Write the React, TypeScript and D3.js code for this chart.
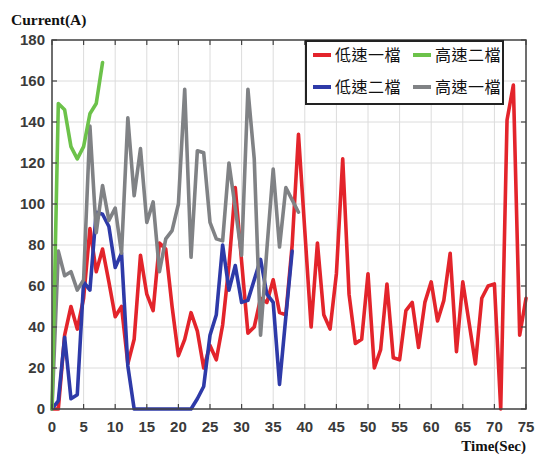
import React from "react";
import * as d3 from "d3";

const xTicks = [0, 5, 10, 15, 20, 25, 30, 35, 40, 45, 50, 55, 60, 65, 70, 75];
const yTicks = [0, 20, 40, 60, 80, 100, 120, 140, 160, 180];

const lowFirst = [
  0, 0, 36, 50, 39, 54, 88, 67, 78, 62, 45, 50, 22, 34, 75, 56, 48, 81, 78, 50,
  26, 34, 47, 38, 20, 31, 24, 41, 70, 108, 72, 37, 40, 54, 52, 63, 47, 46, 80, 134,
  87, 40, 81, 46, 39, 66, 122, 56, 32, 34, 66, 20, 29, 61, 25, 24, 48, 52, 30, 52,
  62, 43, 53, 76, 28, 62, 42, 22, 54, 60, 61, 0, 141, 158, 36, 54,
];
const lowSecond = [
  0, 4, 35, 5, 7, 62, 58, 96, 95, 89, 69, 76, 21, 0, 0, 0, 0, 0, 0, 0,
  0, 0, 0, 5, 11, 36, 46, 80, 58, 70, 52, 53, 63, 73, 56, 52, 12, 45, 77,
];
const highSecond = [0, 149, 146, 128, 122, 128, 144, 149, 169];
const highFirst = [
  0, 77, 65, 67, 58, 63, 138, 86, 109, 92, 98, 76, 142, 104, 127, 91, 101, 67, 83, 87,
  100, 156, 74, 126, 125, 91, 83, 82, 120, 98, 75, 156, 122, 36, 78, 117, 79, 108, 102, 96,
];

const seriesNames = ["低速一檔", "高速二檔", "低速二檔", "高速一檔"];
const seriesColors = ["#e3242b", "#6cc24a", "#2e3aa8", "#808285"];

export default function App() {
  const W = 537, H = 456;
  const L = 52, R = 526, T = 40, B = 409;
  const x = d3.scaleLinear().domain([0, 75]).range([L, R]);
  const y = d3.scaleLinear().domain([0, 180]).range([B, T]);
  const line = d3
    .line<number>()
    .x((_, i) => x(i))
    .y((d) => y(d));

  const draw = [
    { data: lowFirst, color: seriesColors[0] },
    { data: lowSecond, color: seriesColors[2] },
    { data: highFirst, color: seriesColors[3] },
    { data: highSecond, color: seriesColors[1] },
  ];

  const legendItems = [
    { name: seriesNames[0], color: seriesColors[0], lx: 313, ly: 55 },
    { name: seriesNames[1], color: seriesColors[1], lx: 413, ly: 55 },
    { name: seriesNames[2], color: seriesColors[2], lx: 313, ly: 87 },
    { name: seriesNames[3], color: seriesColors[3], lx: 413, ly: 87 },
  ];

  const tickFont = "'Liberation Sans', Arial, sans-serif";
  const serif = "'Liberation Serif', 'Times New Roman', serif";

  return (
    <svg
      width={W}
      height={H}
      style={{ position: "fixed", left: 0, top: 0, background: "#fff" }}
    >
      <rect x={0} y={0} width={W} height={H} fill="#fff" />
      {xTicks.map((t) => (
        <line key={"gx" + t} x1={x(t)} x2={x(t)} y1={T} y2={B} stroke="#dcdcdc" strokeWidth={1} />
      ))}
      {yTicks.map((t) => (
        <line key={"gy" + t} x1={L} x2={R} y1={y(t)} y2={y(t)} stroke="#dcdcdc" strokeWidth={1} />
      ))}
      {draw.map((s, i) => (
        <path
          key={"s" + i}
          d={line(s.data) || ""}
          fill="none"
          stroke={s.color}
          strokeWidth={3.6}
          strokeLinejoin="round"
          strokeLinecap="round"
        />
      ))}
      <rect x={L} y={T} width={R - L} height={B - T} fill="none" stroke="#444" strokeWidth={1.5} />
      {xTicks.map((t) => (
        <g key={"tx" + t}>
          <line x1={x(t)} x2={x(t)} y1={B} y2={B - 5} stroke="#444" strokeWidth={1.2} />
          <line x1={x(t)} x2={x(t)} y1={T} y2={T + 5} stroke="#444" strokeWidth={1.2} />
          <text
            x={x(t)}
            y={432}
            textAnchor="middle"
            fontFamily={tickFont}
            fontWeight="bold"
            fontSize={15}
            fill="#3a3a3a"
          >
            {t}
          </text>
        </g>
      ))}
      {yTicks.map((t) => (
        <g key={"ty" + t}>
          <line x1={L} x2={L + 5} y1={y(t)} y2={y(t)} stroke="#444" strokeWidth={1.2} />
          <line x1={R} x2={R - 5} y1={y(t)} y2={y(t)} stroke="#444" strokeWidth={1.2} />
          <text
            x={45}
            y={y(t) + 5}
            textAnchor="end"
            fontFamily={tickFont}
            fontWeight="bold"
            fontSize={15}
            fill="#3a3a3a"
          >
            {t}
          </text>
        </g>
      ))}
      <text x={11} y={25} fontFamily={serif} fontWeight="bold" fontSize={15.5} fill="#111">
        Current(A)
      </text>
      <text x={526} y={451} textAnchor="end" fontFamily={serif} fontWeight="bold" fontSize={15} fill="#111">
        Time(Sec)
      </text>
      <rect x={306} y={41} width={197} height={63} fill="#fff" stroke="#222" strokeWidth={2} />
      {legendItems.map((it) => (
        <g key={it.name}>
          <line x1={it.lx} x2={it.lx + 18} y1={it.ly} y2={it.ly} stroke={it.color} strokeWidth={4} />
          <text
            x={it.lx + 22}
            y={it.ly + 6}
            fontFamily="'Noto Sans CJK TC', sans-serif"
            fontSize={16}
            fill="#111"
            letterSpacing={0.5}
          >
            {it.name}
          </text>
        </g>
      ))}
    </svg>
  );
}
